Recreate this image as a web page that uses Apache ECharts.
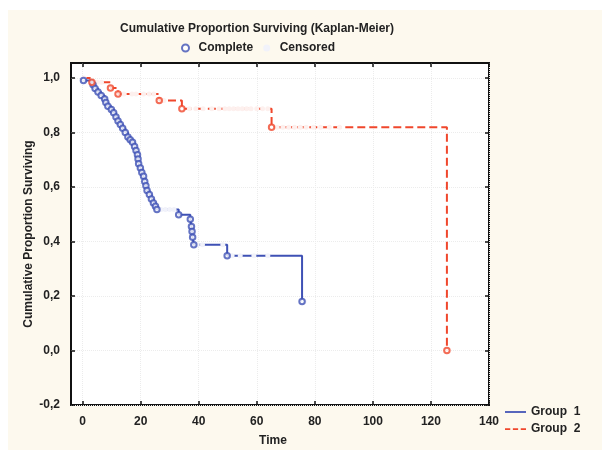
<!DOCTYPE html>
<html><head><meta charset="utf-8">
<script src="https://cdn.jsdelivr.net/npm/echarts@6/dist/echarts.min.js"></script>
<style>
html,body{margin:0;padding:0;background:#fff;}
#bg{position:absolute;left:8px;top:10px;width:594px;height:440px;background:#fdf9ee;}
#chart{position:absolute;left:0;top:0;width:602px;height:450px;}
</style></head><body>
<div id="bg"></div><div id="chart"></div>
<script>
const xTicks = [0, 20, 40, 60, 80, 100, 120, 140];
const yTicks = [-0.2, 0, 0.2, 0.4, 0.6, 0.8, 1.0];

// Group 1: event times and survival levels (first entry = start)
const g1Time = [0, 0.3, 3.6, 4.3, 5.3, 6.4, 7.6, 8.0, 8.7, 9.9, 10.7, 11.5, 12.2, 13.0, 13.8, 14.7, 15.6, 16.4, 17.2, 17.9, 18.4, 18.9, 19.1, 19.3, 19.9, 20.4, 21.0, 21.4, 21.8, 22.2, 23.0, 23.7, 24.4, 25.1, 25.6, 33.1, 37.1, 37.5, 37.7, 37.9, 38.3, 49.8, 75.6];
const g1Surv = [1.0, 0.991, 0.975, 0.961, 0.949, 0.936, 0.923, 0.910, 0.896, 0.884, 0.872, 0.857, 0.842, 0.829, 0.816, 0.800, 0.783, 0.773, 0.764, 0.749, 0.734, 0.718, 0.703, 0.685, 0.670, 0.653, 0.639, 0.620, 0.605, 0.587, 0.572, 0.556, 0.541, 0.529, 0.517, 0.498, 0.482, 0.455, 0.437, 0.416, 0.388, 0.348, 0.180];
const g1Censored = [27, 28.5, 30, 31.5, 39.5, 41.3, 48.3, 51.5, 54.3, 59, 63.8, 76.3];

// Group 2
const g2Time = [0, 3.2, 9.6, 12.2, 26.4, 34.2, 65.1, 125.5];
const g2Surv = [1.0, 0.984, 0.963, 0.941, 0.917, 0.887, 0.819, 0.0];
const g2Censored = [0.5, 5, 6.5, 14.2, 17, 18.4, 21, 22.9, 24.5, 28, 36.8, 39, 41.5, 44.5, 47, 49, 50.5, 52, 53.5, 55, 56.5, 58, 60, 62, 63.8, 67, 69, 71, 73, 75, 77, 79.5, 82, 85, 88.5];

const BLUE = '#3f51b5';
const RED = '#f0472c';
const FONT = '"Liberation Sans", Arial, sans-serif';

function pairs(t, s) { return t.map((v, i) => [v, s[i]]); }
function levelAt(t, s, x) { let v = s[0]; for (let i = 0; i < t.length; i++) { if (t[i] <= x) v = s[i]; } return v; }

const chart = echarts.init(document.getElementById('chart'), null, {renderer: 'canvas'});

const tickLabel = {fontFamily: FONT, fontWeight: 'bold', fontSize: 12, color: '#222'};
const tickStyle = {color: '#111', width: 1.5};

const option = {
  animation: false,
  backgroundColor: 'transparent',
  textStyle: {fontFamily: FONT},
  grid: {left: 71, right: 113, top: 63, bottom: 45, show: true, backgroundColor: '#ffffff', borderColor: '#111', borderWidth: 2},
  xAxis: [
    {type: 'value', min: -4, max: 140, position: 'bottom',
     axisLine: {show: false, onZero: false},
     axisTick: {show: true, inside: true, length: 4, customValues: xTicks, lineStyle: tickStyle},
     axisLabel: Object.assign({customValues: xTicks, margin: 11, formatter: v => String(v)}, tickLabel),
     splitLine: {show: true, lineStyle: {color: '#ececec', type: 'dotted', width: 1}}},
    {type: 'value', min: -4, max: 140, position: 'top',
     axisLine: {show: false, onZero: false},
     axisTick: {show: true, inside: true, length: 4, customValues: xTicks, lineStyle: tickStyle},
     axisLabel: {show: false}, splitLine: {show: false}}
  ],
  yAxis: [
    {type: 'value', min: -0.2, max: 1.055, position: 'left',
     axisLine: {show: false, onZero: false},
     axisTick: {show: true, inside: true, length: 4, customValues: yTicks, lineStyle: tickStyle},
     axisLabel: Object.assign({customValues: yTicks, margin: 11, formatter: v => v.toFixed(1).replace('.', ',')}, tickLabel),
     splitLine: {show: true, lineStyle: {color: '#ececec', type: 'dotted', width: 1}}},
    {type: 'value', min: -0.2, max: 1.055, position: 'right',
     axisLine: {show: false, onZero: false},
     axisTick: {show: true, inside: true, length: 4, customValues: yTicks, lineStyle: tickStyle},
     axisLabel: {show: false}, splitLine: {show: false}}
  ],
  legend: [
    {data: ['Complete', 'Censored'], left: 181, top: 42, padding: 0, itemWidth: 16, itemHeight: 7, itemGap: 10,
     textStyle: {fontFamily: FONT, fontWeight: 'bold', fontSize: 12, color: '#222'}, selectedMode: false},
    {data: [
       {name: 'Group  1', icon: 'path://M0,0H24V2H0Z'},
       {name: 'Group  2', icon: 'path://M0,0H6V2H0Z M9,0H15V2H9Z M18,0H24V2H18Z'}
     ],
     orient: 'vertical', left: 505, top: 406, padding: 0, itemWidth: 21, itemHeight: 2, itemGap: 5,
     textStyle: {fontFamily: FONT, fontWeight: 'bold', fontSize: 12, color: '#222'}, selectedMode: false}
  ],
  graphic: [
    {type: 'text', x: 257, y: 29, style: {text: 'Cumulative Proportion Surviving (Kaplan-Meier)', font: 'bold 12px ' + FONT, fill: '#222', textAlign: 'center', textVerticalAlign: 'middle'}},
    {type: 'text', x: 29, y: 234, rotation: Math.PI / 2, style: {text: 'Cumulative Proportion Surviving', font: 'bold 12px ' + FONT, fill: '#222', textAlign: 'center', textVerticalAlign: 'middle'}},
    {type: 'text', x: 273, y: 441, style: {text: 'Time', font: 'bold 12px ' + FONT, fill: '#222', textAlign: 'center', textVerticalAlign: 'middle'}}
  ],
  series: [
    {name: 'Group  1', type: 'line', step: 'end', symbol: 'none', data: pairs(g1Time, g1Surv),
     lineStyle: {color: BLUE, width: 2}, itemStyle: {color: BLUE}, z: 2},
    {name: 'Group  2', type: 'line', step: 'end', symbol: 'none', data: pairs(g2Time, g2Surv),
     lineStyle: {color: RED, width: 2, type: [8, 4]}, itemStyle: {color: RED}, z: 2},
    {name: 'Complete', type: 'scatter', symbol: 'emptyCircle', symbolSize: 5.5,
     data: pairs(g1Time.slice(1), g1Surv.slice(1)),
     itemStyle: {color: BLUE, borderColor: BLUE, borderWidth: 1.5}, z: 4},
    {name: 'Complete', type: 'scatter', symbol: 'emptyCircle', symbolSize: 5.5,
     data: pairs(g2Time.slice(1), g2Surv.slice(1)),
     itemStyle: {color: RED, borderColor: RED, borderWidth: 1.5}, z: 4},
    {name: 'Censored', type: 'scatter', symbol: 'circle', symbolSize: 5,
     data: g1Censored.map(x => [x, levelAt(g1Time, g1Surv, x)]),
     itemStyle: {color: '#f1f2fa', opacity: 1}, z: 3},
    {name: 'Censored', type: 'scatter', symbol: 'circle', symbolSize: 5,
     data: g2Censored.map(x => [x, levelAt(g2Time, g2Surv, x)]),
     itemStyle: {color: '#fdf0ee', opacity: 1}, z: 3}
  ]
};
chart.setOption(option);
</script>
</body></html>
